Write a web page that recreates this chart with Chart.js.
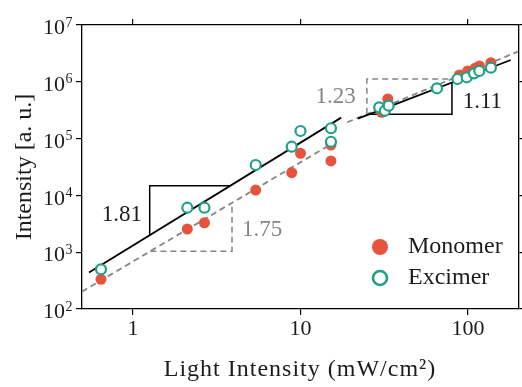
<!DOCTYPE html>
<html>
<head>
<meta charset="utf-8">
<script src="https://cdn.jsdelivr.net/npm/chart.js@4.4.0/dist/chart.umd.min.js"></script>
<style>
  html, body { margin: 0; padding: 0; background: #fff; }
  #wrap { width: 522px; height: 387px; }
</style>
</head>
<body>
<div id="wrap"><canvas id="grafico" width="522" height="387"></canvas></div>
<script>
// eixos
const xTicks = [1, 10, 100];
const xTickLabels = ["1", "10", "100"];
const yTicks = [1e2, 1e3, 1e4, 1e5, 1e6, 1e7];
const yExpoentes = ["2", "3", "4", "5", "6", "7"];

// dados
const luzMonomer = [0.644, 2.11, 2.67, 5.4, 8.86, 10.0, 15.2, 15.2, 30.5, 33.2, 88.8, 99.5, 110, 117, 137];
const monomer = [333, 2560, 3300, 12400, 25100, 55000, 77000, 40400, 290000, 498000, 1.32e6, 1.55e6, 1.73e6, 1.9e6, 2.17e6];
const luzExcimer = [0.644, 2.11, 2.67, 5.4, 8.86, 10.0, 15.2, 15.2, 29.5, 31.9, 33.6, 65.3, 86.5, 98.2, 108.6, 116.8, 137];
const excimer = [500, 6070, 6070, 34300, 72000, 136000, 152000, 88000, 356000, 310000, 380000, 769000, 1.12e6, 1.2e6, 1.41e6, 1.55e6, 1.77e6];

// retas de ajuste
const ajusteExcBaixoX = [0.546, 17.5];
const ajusteExcBaixoY = [439, 2.34e5];
const ajusteMonoBaixoX = [0.496, 15];
const ajusteMonoBaixoY = [202, 7.77e4];
const ajusteExcAltoX = [22, 180];
const ajusteExcAltoY = [2.25e5, 2.42e6];
const ajusteMonoAltoX = [19, 198];
const ajusteMonoAltoY = [1.94e5, 3.39e6];

// triangulos de inclinacao
const tri181X = [1.258, 1.258, 3.81];
const tri181Y = [2010, 14800, 14800];
const tri175X = [1.27, 3.9, 3.9];
const tri175Y = [1040, 1040, 7100];
const tri123X = [24.9, 24.9, 80.2];
const tri123Y = [2.75e5, 1.12e6, 1.12e6];
const tri111X = [25.6, 80.2, 80.2];
const tri111Y = [2.67e5, 2.67e5, 9.68e5];

const rotulos = ["1.81", "1.75", "1.23", "1.11"];
const rotuloX = [1.13, 4.47, 21.4, 93];
const rotuloY = [4520, 2460, 5.47e5, 4.47e5];

const VERMELHO = "#e8533d";
const VERDE = "#1f9f86";
const CINZA = "#858585";
const TEXTO = "#1c1c1c";
const FONTE = '"Liberation Serif", "Times New Roman", serif';

const pontos = (xs, ys) => xs.map((x, i) => ({ x: x, y: ys[i] }));

function linha(label, xs, ys, cor, tracejado, largura) {
  return {
    label: label,
    data: pontos(xs, ys),
    showLine: true,
    borderColor: cor,
    borderWidth: largura || 1.8,
    borderDash: tracejado ? [6, 4] : [],
    pointRadius: 0,
    fill: false,
    tension: 0
  };
}

function eixo(pos, extra) {
  return Object.assign({
    type: "logarithmic",
    position: pos,
    ticks: { display: false },
    grid: { drawOnChartArea: false, drawTicks: true, tickLength: 6, color: "#000", lineWidth: 1.2 },
    border: { display: true, color: "#000", width: 1.3 }
  }, extra);
}

const textos = {
  id: "textos",
  afterDraw(chart) {
    const { ctx, chartArea: area } = chart;
    const x = chart.scales.x, y = chart.scales.y;
    ctx.save();
    ctx.fillStyle = TEXTO;

    // rotulos eixo y com expoente
    yTicks.forEach((v, i) => {
      const py = y.getPixelForValue(v);
      ctx.font = "22px " + FONTE;
      ctx.textAlign = "right";
      ctx.textBaseline = "middle";
      ctx.fillText("10", 65, py + 3.5);
      ctx.font = "14px " + FONTE;
      ctx.textAlign = "left";
      ctx.fillText(yExpoentes[i], 65.5, py - 2);
    });

    // rotulos eixo x
    ctx.font = "22px " + FONTE;
    ctx.textAlign = "center";
    ctx.textBaseline = "middle";
    xTicks.forEach((v, i) => {
      ctx.fillText(xTickLabels[i], x.getPixelForValue(v), 329);
    });

    // titulos
    ctx.font = "24px " + FONTE;
    ctx.letterSpacing = "1px";
    ctx.fillText("Light Intensity (mW/cm²)", 300, 370);
    ctx.letterSpacing = "0px";
    ctx.save();
    ctx.translate(25, (area.top + area.bottom) / 2);
    ctx.rotate(-Math.PI / 2);
    ctx.fillText("Intensity [a. u.]", 0, 0);
    ctx.restore();

    // inclinacoes
    ctx.font = "23px " + FONTE;
    const alinhar = ["right", "left", "right", "left"];
    const cores = [TEXTO, CINZA, CINZA, TEXTO];
    rotulos.forEach((t, i) => {
      ctx.fillStyle = cores[i];
      ctx.textAlign = alinhar[i];
      ctx.fillText(t, x.getPixelForValue(rotuloX[i]), y.getPixelForValue(rotuloY[i]));
    });

    // legenda
    const lx = area.right - 139;
    const ly1 = area.bottom - 62, ly2 = area.bottom - 31;
    ctx.beginPath();
    ctx.arc(lx, ly1, 8, 0, Math.PI * 2);
    ctx.fillStyle = VERMELHO;
    ctx.fill();
    ctx.beginPath();
    ctx.arc(lx, ly2, 7, 0, Math.PI * 2);
    ctx.strokeStyle = VERDE;
    ctx.lineWidth = 2.6;
    ctx.stroke();
    ctx.fillStyle = TEXTO;
    ctx.font = "24px " + FONTE;
    ctx.textAlign = "left";
    ctx.fillText(chart.data.datasets[1].label, lx + 28, ly1);
    ctx.fillText(chart.data.datasets[0].label, lx + 28, ly2);
    ctx.restore();
  }
};

new Chart(document.getElementById("grafico").getContext("2d"), {
  type: "scatter",
  data: {
    datasets: [
      {
        label: "Excimer",
        data: pontos(luzExcimer, excimer),
        pointRadius: 5,
        pointBorderWidth: 2.2,
        borderColor: VERDE,
        backgroundColor: "#ffffff"
      },
      {
        label: "Monomer",
        data: pontos(luzMonomer, monomer),
        pointRadius: 5.5,
        pointBorderWidth: 0,
        borderColor: VERMELHO,
        backgroundColor: VERMELHO
      },
      linha("ajuste excimer baixo", ajusteExcBaixoX, ajusteExcBaixoY, "#000", false),
      linha("ajuste monomer baixo", ajusteMonoBaixoX, ajusteMonoBaixoY, CINZA, true),
      linha("ajuste excimer alto", ajusteExcAltoX, ajusteExcAltoY, "#000", false),
      linha("ajuste monomer alto", ajusteMonoAltoX, ajusteMonoAltoY, CINZA, true),
      linha("tri 1.81", tri181X, tri181Y, "#000", false, 1.5),
      linha("tri 1.75", tri175X, tri175Y, CINZA, true, 1.5),
      linha("tri 1.23", tri123X, tri123Y, CINZA, true, 1.5),
      linha("tri 1.11", tri111X, tri111Y, "#000", false, 1.5)
    ]
  },
  options: {
    responsive: false,
    animation: false,
    devicePixelRatio: 1,
    layout: { padding: 0, autoPadding: false },
    plugins: { legend: { display: false }, tooltip: { enabled: false } },
    scales: {
      x: eixo("bottom", {
        min: 0.496, max: 201.6,
        afterBuildTicks: s => { s.ticks = xTicks.map(v => ({ value: v })); },
        afterFit: s => { s.height = 78; }
      }),
      x2: eixo("top", {
        axis: "x",
        min: 0.496, max: 201.6,
        afterBuildTicks: s => { s.ticks = xTicks.map(v => ({ value: v })); },
        afterFit: s => { s.height = 25; }
      }),
      y: eixo("left", {
        min: 100, max: 1e7,
        afterBuildTicks: s => { s.ticks = yTicks.map(v => ({ value: v })); },
        afterFit: s => { s.width = 82; }
      }),
      y2: eixo("right", {
        axis: "y",
        min: 100, max: 1e7,
        afterBuildTicks: s => { s.ticks = yTicks.map(v => ({ value: v })); },
        afterFit: s => { s.width = 3; }
      })
    }
  },
  plugins: [textos]
});
</script>
</body>
</html>
